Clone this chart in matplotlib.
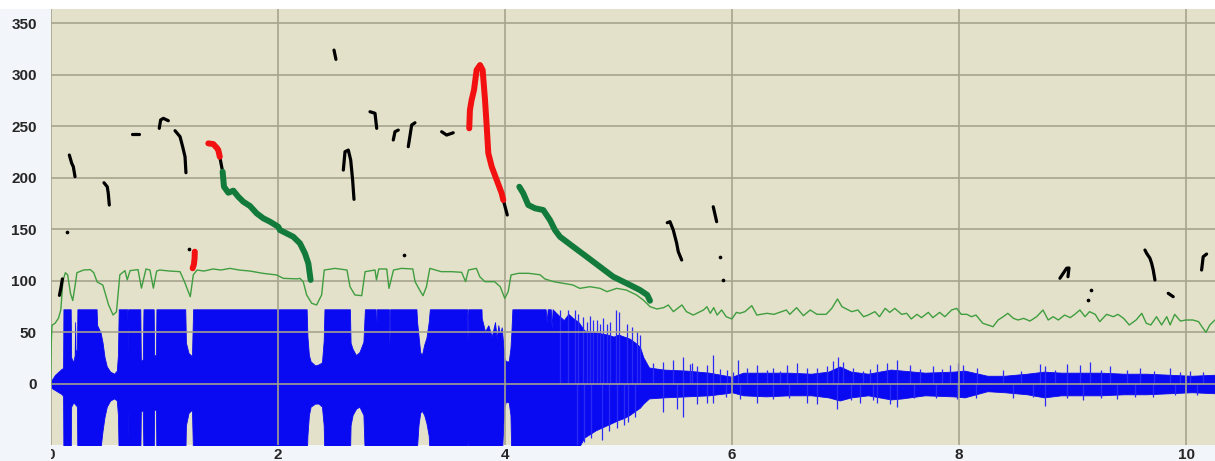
import matplotlib
matplotlib.use("Agg")
import matplotlib.pyplot as plt
import numpy as np
from matplotlib.transforms import Bbox
from matplotlib.patches import Rectangle

plt.rcParams['font.family'] = ['Liberation Sans', 'DejaVu Sans']
plt.rcParams['font.weight'] = 'bold'

# ---------------- data ----------------
x_ticks = [0, 2, 4, 6, 8, 10]
y_ticks = [0, 50, 100, 150, 200, 250, 300, 350]

# waveform body envelope (upper / lower)
wave_t = [0.000, 0.010, 0.040, 0.070, 0.100, 0.110, 0.113, 0.177, 0.181, 0.200, 0.212, 0.216, 0.220,
          0.232, 0.236, 0.405, 0.410, 0.440, 0.458, 0.475, 0.495, 0.525, 0.560, 0.583, 0.593, 0.600,
          0.676, 0.680, 0.684, 0.790, 0.795, 0.812, 0.818, 0.908, 0.912, 0.928, 0.932, 1.186, 1.192,
          1.215, 1.245, 1.255, 2.255, 2.262, 2.275, 2.290, 2.330, 2.360, 2.390, 2.405, 2.412, 2.636,
          2.642, 2.660, 2.690, 2.720, 2.755, 2.768, 2.862, 2.866, 2.872, 2.980, 2.984, 2.990, 3.222,
          3.228, 3.240, 3.255, 3.270, 3.290, 3.310, 3.330, 3.340, 3.668, 3.672, 3.678, 3.795, 3.797,
          3.826, 3.855, 3.885, 3.914, 3.929, 3.943, 3.958, 3.973, 3.987, 3.997, 4.010, 4.035, 4.050,
          4.058, 4.067, 4.360, 4.369, 4.378, 4.405, 4.413, 4.421, 4.480, 4.520, 4.560, 4.600, 4.650,
          4.700, 4.800, 4.900, 4.960, 5.000, 5.050, 5.100, 5.150, 5.190, 5.220, 5.250, 5.270, 5.400,
          5.600, 5.800, 5.950, 6.000, 6.100, 6.300, 6.500, 6.700, 6.850, 6.950, 7.050, 7.200, 7.300,
          7.400, 7.500, 7.700, 7.950, 8.050, 8.250, 8.400, 8.600, 8.750, 8.900, 9.050, 9.250, 9.450,
          9.650, 9.850, 10.050, 10.255]
wave_up = [0, 4, 9, 12, 15, 15, 72.5, 72.5, 26, 21, 28, 60, 30,
           34, 72.5, 72.5, 57, 50, 40, 26, 17, 12, 10, 13, 28, 72.5,
           72.5, 31, 72.5, 72.5, 22, 24, 72.5, 72.5, 28, 28, 72.5, 72.5, 40,
           30, 27, 72.5, 72.5, 46, 28, 22, 18, 19, 21, 42, 72.5, 72.5,
           40, 34, 28, 31, 41, 72.5, 72.5, 28, 72.5, 72.5, 38, 72.5, 72.5,
           60, 47, 31, 28, 38, 45, 60, 72.5, 72.5, 43, 72.5, 72.5, 64,
           51, 57, 46, 60, 44, 57, 48, 55, 38, 25, 22, 22, 35,
           50, 72.5, 72.5, 60, 72.5, 72.5, 54, 72.5, 66, 62, 68, 64, 60,
           52, 50, 48, 46, 48, 46, 44, 40, 36, 26, 20, 16, 14,
           13, 11, 8, 7, 11, 11, 11, 10, 12, 17, 12, 10, 12,
           14, 13, 11, 12, 13, 8, 8, 10, 12, 11, 11, 11, 10,
           10, 9, 8, 9]
wave_lo = [0, -4, -6, -8, -10, -12, -72, -72, -22, -18, -19, -20, -20,
           -22, -72, -72, -72, -62, -45, -32, -22, -16, -14, -16, -30, -72,
           -72, -25, -72, -72, -26, -26, -72, -72, -25, -25, -72, -72, -40,
           -28, -25, -72, -72, -50, -30, -22, -19, -19, -22, -40, -72, -72,
           -40, -30, -24, -22, -30, -72, -72, -40, -72, -72, -60, -72, -72,
           -60, -40, -28, -26, -30, -38, -50, -72, -72, -55, -72, -72, -72,
           -72, -72, -72, -72, -72, -72, -72, -72, -40, -22, -17, -18, -30,
           -72, -72, -72, -72, -72, -72, -72, -72, -72, -72, -72, -72, -62,
           -52, -45, -40, -37, -35, -33, -30, -26, -23, -19, -16, -14, -13,
           -12, -11, -9, -8, -11, -12, -11, -11, -13, -16, -13, -11, -13,
           -15, -14, -11, -12, -13, -7, -8, -10, -13, -11, -11, -11, -10,
           -10, -9, -8, -9]

# isolated waveform spikes
spike_up_t = [4.486, 4.560, 4.618, 4.648, 4.690, 4.720, 4.750, 4.780, 4.809, 4.840, 4.868, 4.897,
              4.930, 4.980, 5.009, 5.073, 5.120, 5.161, 5.190, 5.308, 5.396, 5.484, 5.572, 5.631,
              5.646, 5.690, 5.778, 5.837, 5.896, 5.954, 6.013, 6.057, 6.130, 6.218, 6.306, 6.365,
              6.424, 6.483, 6.571, 6.659, 6.747, 6.835, 6.894, 6.938, 6.982, 7.070, 7.158, 7.217,
              7.275, 7.363, 7.451, 7.568, 7.660, 7.774, 7.850, 7.921, 7.994, 8.038, 8.156, 8.390,
              8.550, 8.713, 8.757, 8.850, 8.948, 9.066, 9.154, 9.250, 9.330, 9.480, 9.594, 9.720,
              9.858, 9.950, 10.035, 10.150]
spike_up_v = [72, 72, 72, 68, 65, 60, 66, 62, 62, 58, 64, 58,
              60, 72, 70, 58, 55, 50, 48, 20, 21, 23, 26, 19,
              20, 17, 18, 28, 15, 14, 12, 23, 16, 18, 14, 16,
              13, 18, 20, 16, 16, 17, 22, 26, 21, 16, 13, 15,
              19, 20, 23, 18, 15, 17, 15, 18, 20, 18, 16, 14,
              13, 19, 17, 14, 19, 18, 21, 14, 17, 14, 16, 13,
              16, 12, 13, 12]
spike_lo_t = [4.633, 4.700, 4.760, 4.853, 4.920, 4.985, 5.050, 5.088, 5.150, 5.396, 5.514, 5.572,
              5.690, 5.778, 5.837, 5.950, 6.072, 6.218, 6.365, 6.500, 6.659, 6.747, 6.923, 7.050,
              7.128, 7.246, 7.275, 7.392, 7.451, 7.600, 7.800, 7.979, 8.150, 8.478, 8.650, 8.757,
              8.950, 9.095, 9.250, 9.389, 9.550, 9.712, 9.900, 10.100]
spike_lo_v = [-59, -56, -52, -54, -46, -43, -40, -37, -32, -27, -24, -32,
              -19, -18, -18, -13, -15, -18, -15, -14, -18, -19, -24, -16,
              -18, -16, -18, -19, -22, -14, -14, -15, -14, -14, -13, -21,
              -14, -16, -14, -15, -13, -13, -11, -11]

# thin green (intensity) curve
inten_t = [0.000, 0.006, 0.012, 0.040, 0.070, 0.090, 0.108, 0.130, 0.150, 0.175, 0.195, 0.215, 0.232,
           0.290, 0.350, 0.380, 0.410, 0.460, 0.510, 0.550, 0.580, 0.610, 0.655, 0.675, 0.700, 0.770,
           0.800, 0.840, 0.875, 0.905, 0.934, 0.960, 1.050, 1.140, 1.180, 1.230, 1.257, 1.290, 1.350,
           1.430, 1.500, 1.580, 1.660, 1.756, 1.870, 1.990, 2.050, 2.170, 2.196, 2.225, 2.255, 2.300,
           2.343, 2.387, 2.410, 2.505, 2.610, 2.637, 2.680, 2.740, 2.770, 2.857, 2.870, 2.890, 2.960,
           2.980, 3.020, 3.090, 3.190, 3.210, 3.250, 3.280, 3.310, 3.340, 3.440, 3.530, 3.620, 3.655,
           3.680, 3.750, 3.780, 3.825, 3.910, 3.960, 4.000, 4.030, 4.055, 4.120, 4.210, 4.310, 4.354,
           4.430, 4.515, 4.600, 4.660, 4.750, 4.840, 4.900, 4.985, 5.070, 5.160, 5.220, 5.280, 5.340,
           5.400, 5.440, 5.485, 5.560, 5.600, 5.660, 5.750, 5.780, 5.810, 5.840, 5.870, 5.910, 5.950,
           6.000, 6.040, 6.070, 6.115, 6.175, 6.220, 6.310, 6.370, 6.420, 6.480, 6.510, 6.570, 6.630,
           6.690, 6.750, 6.830, 6.880, 6.930, 6.970, 7.055, 7.110, 7.160, 7.200, 7.260, 7.300, 7.350,
           7.390, 7.435, 7.495, 7.540, 7.580, 7.630, 7.670, 7.730, 7.770, 7.830, 7.876, 7.935, 7.980,
           8.020, 8.070, 8.110, 8.150, 8.210, 8.255, 8.300, 8.345, 8.390, 8.430, 8.480, 8.520, 8.570,
           8.625, 8.684, 8.740, 8.786, 8.830, 8.875, 8.930, 8.980, 9.020, 9.065, 9.110, 9.150, 9.200,
           9.240, 9.300, 9.360, 9.400, 9.450, 9.500, 9.560, 9.610, 9.650, 9.690, 9.740, 9.785, 9.830,
           9.860, 9.900, 9.950, 10.000, 10.060, 10.110, 10.140, 10.175, 10.210, 10.255]
inten_v = [0, 40, 57, 59, 64, 72, 100, 108, 106, 88, 81, 95, 108,
           110.6, 111, 108, 99, 96, 77, 67, 70, 106, 110, 101, 110, 111,
           93, 111.6, 110.6, 93, 109.6, 110.6, 109.6, 109, 99, 84.7, 106, 110.6, 109.6,
           111.6, 110.6, 112.2, 110.6, 109.6, 107.4, 105.8, 102.5, 102, 102.5, 99.3, 86.4, 78.3,
           76.7, 86.4, 110.6, 112.2, 110.6, 94.4, 86.4, 85.7, 109, 110.6, 100.9, 111.6, 111.6,
           92.8, 110.6, 112.2, 111.6, 99.3, 91.2, 85.7, 94.4, 112.2, 109, 109, 108.4, 99.3,
           110.6, 112.2, 104.1, 99.3, 99.3, 94.4, 83.1, 89.6, 105.8, 107.4, 107.4, 106, 101.9,
           99.3, 97.7, 96.1, 92.8, 94.4, 92.8, 89.6, 92.8, 91.2, 86.4, 81.5, 75, 72.8,
           74.1, 76.7, 70.2, 76.7, 70.2, 66.9, 71.8, 75, 68.6, 74.1, 66.9, 71.8, 65.3,
           63.1, 69.5, 68.6, 70.2, 76, 66.9, 68.6, 67.6, 69.5, 71.8, 67.6, 74.1, 66.3,
           71.8, 67.6, 67.6, 73.4, 82.5, 75, 70.2, 71.8, 65.3, 66.9, 70.2, 65.3, 73.4,
           69.5, 73.4, 67.6, 68.6, 63.1, 67.6, 64.4, 69.5, 64.4, 69.5, 65.3, 71.8, 73.4,
           67.6, 67.6, 65.3, 66.9, 58.9, 57.3, 55.6, 62.1, 65.3, 68.6, 63.7, 62.1, 63.7,
           61.1, 65.3, 71.8, 62.1, 65.3, 62.1, 66.9, 64.4, 67.6, 71.8, 65.3, 70.2, 67.6,
           60.5, 67.6, 65.3, 67.6, 63.7, 57.3, 62.1, 68.6, 58.9, 57.3, 65.3, 57.3, 65.3,
           57.3, 67.6, 61.1, 62.1, 62.1, 60.5, 55.6, 50.1, 57.3, 62.1]

# pitch tracks
green_track_1_t = [1.515, 1.527, 1.565, 1.609, 1.653, 1.697, 1.756, 1.815, 1.873, 1.932, 2.005, 2.020,
                   2.137, 2.196, 2.240, 2.270, 2.290]
green_track_1_v = [206, 191.4, 185.6, 187.6, 181.7, 176.9, 172.7, 165.6, 160.8, 157.5, 152.6, 149.4,
                   142.9, 136.5, 126.8, 117, 101]
green_track_2_t = [4.128, 4.163, 4.207, 4.266, 4.339, 4.398, 4.442, 4.486, 4.603, 4.721, 4.838, 4.955,
                   5.073, 5.190, 5.255, 5.279]
green_track_2_v = [191.4, 185, 173.7, 170.5, 168.8, 159.1, 149.4, 142.9, 133.2, 123.5, 113.8, 104.1,
                   97.7, 91.2, 86.4, 80.8]
red_track_1_t = [1.389, 1.433, 1.465, 1.477, 1.490]
red_track_1_v = [233.5, 232.8, 229, 227, 220.5]
red_track_2_t = [1.251, 1.262, 1.268, 1.270]
red_track_2_v = [112.3, 116, 122, 128.4]
red_track_3_t = [3.687, 3.693, 3.708, 3.729, 3.752, 3.782, 3.805, 3.826, 3.841, 3.855, 3.885, 3.929,
                 3.973, 3.987]
red_track_3_v = [248.1, 265.9, 275.6, 285.3, 304.7, 309.5, 304.7, 275.6, 249.7, 223.9, 210.9, 197.9,
                 185, 178.5]

black_tracks_t = [
    [0.078, 0.092, 0.104],
    [0.165, 0.186, 0.200, 0.215],
    [0.470, 0.499, 0.508, 0.517],
    [0.714, 0.781],
    [0.957, 0.969, 0.993, 1.037],
    [1.096, 1.140, 1.163, 1.184, 1.192],
    [1.490, 1.503, 1.515],
    [2.496, 2.513],
    [2.578, 2.593, 2.622, 2.643, 2.660, 2.672],
    [2.813, 2.857, 2.872],
    [3.018, 3.033, 3.062],
    [3.150, 3.180, 3.209],
    [3.444, 3.488, 3.546],
    [3.987, 4.005, 4.022],
    [5.431, 5.455, 5.484, 5.514, 5.528, 5.558],
    [5.836, 5.866],
    [8.889, 8.948, 8.969, 8.960],
    [9.638, 9.653, 9.682, 9.697, 9.711, 9.726],
    [9.843, 9.887],
    [10.137, 10.151, 10.181],
]
black_tracks_v = [
    [86, 94, 102],
    [222.2, 214.1, 210.9, 201.2],
    [195.3, 191.4, 185, 173.7],
    [242.6, 242.6],
    [248.1, 256.2, 257.8, 255.5],
    [245.8, 240, 230.3, 220.5, 205],
    [220.5, 213, 206],
    [324, 315],
    [207.6, 225.4, 227, 217.3, 197.9, 179.2],
    [264.2, 262.7, 248.1],
    [236.8, 244.8, 246.4],
    [230.3, 251.3, 253.5],
    [244.8, 241.6, 243.8],
    [178.5, 171, 164],
    [156.5, 157.5, 149.4, 136.5, 128.4, 120.3],
    [172, 157.5],
    [102.6, 112.3, 112.6, 104.1],
    [130, 126.8, 122, 117.1, 110.6, 100.9],
    [88, 84.7],
    [110.6, 123.5, 126.1],
]
dot_t = [0.142, 1.219, 3.112, 5.895, 5.919, 9.160, 9.138]
dot_v = [147.8, 130.7, 125.2, 122.9, 100.9, 91, 81.5]

# ---------------- figure ----------------
W, H = 1215, 461
fig = plt.figure(figsize=(W / 100, H / 100), dpi=100, facecolor='#F2F5FA')
fig.patches.append(Rectangle((0, (H - 9) / H), 1, 9 / H, transform=fig.transFigure,
                             facecolor='white', edgecolor='none', zorder=0))
ax = fig.add_axes([50.6 / W, (H - 445) / H, (W - 50.6) / W, 436 / H])
ax.set_facecolor('#E4E1CB')
ax.set_xlim(0, 10.255)
ax.set_ylim(-59.2, 363.9)
for s in ax.spines.values():
    s.set_visible(False)

blue = '#0A0AF2'
ax.fill_between(wave_t, wave_lo, wave_up, color=blue, lw=0.6, edgecolor=blue, zorder=1)
ax.vlines(spike_up_t, 0, spike_up_v, color='#2A2AF4', lw=0.9, zorder=1)
ax.vlines(spike_lo_t, 0, spike_lo_v, color='#2A2AF4', lw=0.9, zorder=1)

ax.set_xticks(x_ticks)
ax.set_yticks(y_ticks)
ax.grid(True, color='#A6A38D', lw=1.3, alpha=0.9)
ax.set_axisbelow(False)
for gl in ax.get_xgridlines() + ax.get_ygridlines():
    gl.set_zorder(2)

ax.plot(inten_t, inten_v, color='#3F9E3F', lw=1.0, zorder=3)

kw = dict(solid_capstyle='round', solid_joinstyle='round', zorder=5)
for bt, bv in zip(black_tracks_t, black_tracks_v):
    ax.plot(bt, bv, color='black', lw=2.3, **kw)
ax.scatter(dot_t, dot_v, s=7, color='black', zorder=5, linewidths=0)
ax.plot(green_track_1_t, green_track_1_v, color='#127A3A', lw=4.3, **kw)
ax.plot(green_track_2_t, green_track_2_v, color='#127A3A', lw=4.3, **kw)
ax.plot(red_track_1_t, red_track_1_v, color='#F21010', lw=4.3, **kw)
ax.plot(red_track_2_t, red_track_2_v, color='#F21010', lw=4.3, **kw)
ax.plot(red_track_3_t, red_track_3_v, color='#F21010', lw=4.3, **kw)

ax.tick_params(axis='both', length=0, labelcolor='#262626', labelsize=11)
ax.tick_params(axis='y', pad=10)
ax.tick_params(axis='x', pad=2.5)

first = ax.xaxis.get_major_ticks()[0].label1
first.set_clip_on(True)
first.set_clip_box(Bbox.from_extents(50.8, 0, W, H))

fig.savefig('out.png', dpi=100, facecolor=fig.get_facecolor())
